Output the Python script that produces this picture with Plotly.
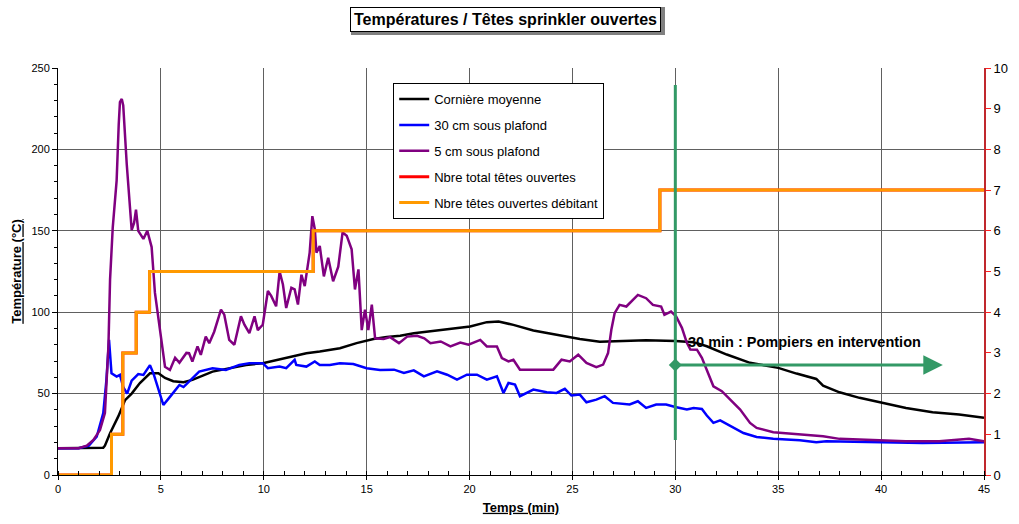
import plotly.graph_objects as go

# ---------------- data ----------------
t_black = [0, 1.0, 2.2, 2.28, 2.53, 2.93, 3.26, 3.58, 3.98, 4.47, 4.88, 5.2, 5.6, 6.1, 6.53, 7.51,
           8.32, 9.14, 9.95, 10.77, 11.58, 12.07, 12.72, 13.7, 14.51, 15.33, 15.98, 16.63, 17.29,
           18.91, 20.03, 20.84, 21.41, 22.13, 23.1, 24.23, 25.36, 26.33, 26.97, 28.58, 30.0, 30.89,
           31.53, 32.5, 33.63, 35.0, 35.89, 36.85, 37.18, 37.98, 38.95, 40.0, 41.21, 42.5, 43.79, 45.0]
v_black = [16.5, 16.5, 16.8, 18, 25.6, 36, 46, 50, 56.5, 62.5, 62.5, 59.6, 57.6, 57, 58.4, 63.5,
           65.6, 67.6, 68.7, 71.1, 73.2, 74.8, 75.9, 77.9, 81, 83.5, 84.7, 85.5, 87.1,
           89.6, 91.2, 93.9, 94.3, 92.2, 88.8, 86.1, 83.5, 81.8, 82.0, 82.7, 82.3, 81.6,
           79.1, 74, 68.9, 65.8, 62.3, 59, 54.9, 50.8, 47.4, 44.3, 41.2, 38.5, 37.1, 35.1]

t_blue = [0, 1.0, 1.5, 1.88, 2.2, 2.35, 2.48, 2.6, 2.85, 3.01, 3.17, 3.36, 3.58, 3.9, 4.15, 4.47,
          4.65, 4.96, 5.12, 5.44, 5.7, 5.9, 6.1, 6.37, 6.86, 7.51, 8.16, 8.81, 9.3, 9.95, 10.2,
          10.77, 11.09, 11.5, 11.58, 12.07, 12.48, 12.72, 13.21, 13.7, 14.35, 15.0, 15.65, 16.33,
          16.81, 17.29, 17.78, 18.42, 18.91, 19.39, 19.87, 20.36, 20.84, 21.33, 21.65, 21.89,
          22.21, 22.45, 23.1, 23.75, 24.23, 24.63, 24.95, 25.36, 25.68, 26.16, 26.57, 26.97,
          27.78, 28.18, 28.58, 29.07, 29.55, 30.0, 30.56, 30.89, 31.29, 31.53, 31.85, 32.18,
          32.66, 33.31, 33.95, 34.76, 36.05, 36.85, 37.34, 39.6, 42.0, 45.0]
v_blue = [16.5, 16.5, 18, 23.5, 38, 58, 83, 62.5, 60.5, 61.5, 54, 50, 58, 62, 61.5, 67.5,
          62, 50, 43, 48, 52, 55.3, 54, 57.3, 63.5, 65.6, 64.5, 67.6, 68.7, 68.7, 65.6,
          66.6, 65.6, 70.7, 67.6, 66.6, 69.7, 67.6, 67.6, 68.7, 68.2, 65.6, 64.5, 64.7,
          62.7, 64.3, 60.6, 63.7, 61.6, 58.6, 61.6, 61.6, 58.6, 60.6, 50.4, 56.5,
          55.5, 48.4, 52.5, 50.8, 50.4, 52.9, 48.8, 49.4, 44.7, 46.3, 48.4, 44.3,
          43.3, 45.3, 41.2, 43.3, 43.3, 41.8, 40.2, 41.2, 40.6, 36.5, 32, 33.6,
          30.3, 25.8, 23.4, 22.2, 21.3, 20.1, 20.7, 20.1, 19.7, 20.1]

t_purple = [0, 1.0, 1.4, 1.72, 2.04, 2.28, 2.45, 2.53, 2.66, 2.85, 2.95, 3.01, 3.1, 3.17, 3.34,
            3.58, 3.7, 3.79, 3.9, 4.15, 4.34, 4.55, 4.71, 4.96, 5.2, 5.44, 5.6, 5.69, 5.9, 6.24,
            6.37, 6.53, 6.78, 6.94, 7.18, 7.35, 7.59, 7.92, 8.08, 8.32, 8.57, 8.89, 9.06, 9.3,
            9.55, 9.71, 9.95, 10.2, 10.36, 10.6, 10.77, 10.93, 11.09, 11.34, 11.5, 11.66, 11.83,
            11.99, 12.23, 12.36, 12.48, 12.56, 12.72, 12.92, 13.13, 13.37, 13.62, 13.83, 14.03,
            14.27, 14.43, 14.6, 14.76, 14.92, 15.08, 15.25, 15.41, 15.82, 16.14, 16.57, 16.97,
            17.45, 17.8, 18.1, 18.6, 19.07, 19.55, 19.95, 20.52, 20.84, 21.33, 21.57, 21.89,
            22.13, 22.45, 22.94, 23.58, 24.07, 24.47, 24.87, 25.28, 25.68, 26.16, 26.49, 26.73,
            26.89, 27.05, 27.29, 27.62, 27.94, 28.18, 28.58, 28.91, 29.31, 29.47, 29.79, 30.04,
            30.32, 30.56, 30.73, 31.05, 31.29, 31.53, 31.85, 32.26, 32.66, 33.15, 33.63, 33.95,
            34.76, 36.05, 37.18, 37.98, 39.6, 41.2, 42.82, 44.27, 45.0]
v_purple = [16.5, 16.5, 18, 21.5, 27.6, 38, 79, 120, 152, 181, 215, 229, 231, 227, 191,
            150.5, 155, 163, 150, 145, 150, 140, 112, 89, 66.5, 64.5, 70, 72, 69, 75,
            74.8, 69.7, 79, 73.8, 85, 81, 88, 101.6, 98.5, 83, 80, 97.5, 92.3, 87.2,
            97.5, 89, 92.3, 113, 110, 103.6, 125, 117, 102.6, 115, 114, 104.7, 123,
            116, 136.6, 159, 151, 136.6, 140.7, 122, 133.5, 119, 128, 149, 147,
            138.6, 114, 126.3, 89, 101.6, 89, 104.7, 84, 83.5, 84.7, 81, 85,
            85.5, 84, 81, 82, 79, 81.4, 80, 83, 79, 79, 71.8, 69.8,
            70.8, 64.7, 64.7, 64.7, 64.7, 70.8, 69.8, 73.9, 68.8, 66.3, 67.8, 74.9,
            89.2, 99.4, 104.5, 103.5, 107.6, 110.6, 108.6, 104.5, 103.5, 98.4, 100.4, 97.4,
            90.4, 81.2, 77.1, 77, 72, 64.8, 54.5, 51.5, 46.3, 40.2, 32, 28.9,
            26.3, 24.8, 23.8, 22.2, 21.3, 20.7, 20.7, 22.2, 20.7]

t_heads = [0, 2.6, 3.15, 3.8, 4.45, 12.4, 29.25, 45]
n_total = [0, 1, 3, 4, 5, 6, 7, 7]
n_debit = [0, 1, 3, 4, 5, 6, 7, 7]

x_ticks = [0, 5, 10, 15, 20, 25, 30, 35, 40, 45]
y_ticks = [0, 50, 100, 150, 200, 250]
y2_ticks = list(range(0, 11))

t_pompiers = 30
arrow_end = 43
arrow_level = 67.6
vline_bottom, vline_top = 21.5, 239.6
label_level = 82

FONT = "Liberation Sans, Arial, sans-serif"
GREEN = "#339966"

fig = go.Figure()
fig.add_trace(go.Scatter(x=t_black, y=v_black, mode="lines", name="Cornière moyenne",
                         line=dict(color="black", width=2.5), legendgroup="a"))
fig.add_trace(go.Scatter(x=t_blue, y=v_blue, mode="lines", name="30 cm sous plafond",
                         line=dict(color="#0000ff", width=2.5), legendgroup="b"))
fig.add_trace(go.Scatter(x=t_purple, y=v_purple, mode="lines", name="5 cm sous plafond",
                         line=dict(color="#800080", width=2.5), legendgroup="c"))
fig.add_trace(go.Scatter(x=t_heads, y=n_total, mode="lines", name="Nbre total têtes ouvertes",
                         line=dict(color="#ff0000", width=3, shape="hv"), yaxis="y2", legendgroup="d"))
fig.add_trace(go.Scatter(x=t_heads, y=n_debit, mode="lines", name="Nbre têtes ouvertes débitant",
                         line=dict(color="#ff9900", width=3, shape="hv"), yaxis="y2", legendgroup="e"))

# green marker line and arrow
fig.add_shape(type="line", x0=t_pompiers, x1=t_pompiers, y0=vline_bottom, y1=vline_top,
              xref="x", yref="y", line=dict(color=GREEN, width=3))
fig.add_annotation(x=arrow_end, y=arrow_level, ax=t_pompiers, ay=arrow_level, xref="x", yref="y",
                   axref="x", ayref="y", text="", showarrow=True, arrowhead=2, arrowsize=1.3,
                   arrowwidth=3, arrowcolor=GREEN, standoff=0, startstandoff=0)
fig.add_trace(go.Scatter(x=[t_pompiers], y=[arrow_level], mode="markers", showlegend=False,
                         marker=dict(symbol="diamond", size=10, color=GREEN), hoverinfo="skip"))
fig.add_annotation(x=t_pompiers + 0.5, y=label_level, xref="x", yref="y", xanchor="left",
                   yanchor="middle", text="<b>30 min : Pompiers en intervention</b>",
                   showarrow=False, font=dict(family=FONT, size=14.5, color="black"))

# boxed title with shadow
fig.add_shape(type="rect", xref="paper", yref="paper", x0=0.3164, x1=0.6555, y0=1.081, y1=1.150,
              fillcolor="#808080", line=dict(width=0), layer="above")
fig.add_annotation(x=0.4833, y=1.12, xref="paper", yref="paper", xanchor="center", yanchor="middle",
                   text="<b>Températures / Têtes sprinkler ouvertes</b>", showarrow=False,
                   font=dict(family=FONT, size=16, color="black"), bordercolor="black",
                   borderwidth=1, borderpad=3, bgcolor="white")

fig.update_layout(
    width=1019, height=524,
    margin=dict(l=58, r=35, t=68, b=49),
    paper_bgcolor="white", plot_bgcolor="white",
    font=dict(family=FONT, color="black", size=11),
    showlegend=True,
    legend=dict(x=0.362, y=0.963, xanchor="left", yanchor="top", bgcolor="white",
                bordercolor="black", borderwidth=1, font=dict(family=FONT, size=13),
                traceorder="grouped", tracegroupgap=6),
    xaxis=dict(range=[0, 45], tickvals=x_ticks, showgrid=True, gridcolor="#606060", gridwidth=1,
               showline=True, linecolor="black", linewidth=1, zeroline=False,
               ticks="outside", ticklen=4, tickcolor="black",
               minor=dict(dtick=1, ticks="inside", ticklen=4, tickcolor="black", showgrid=False),
               tickfont=dict(size=11),
               title=dict(text="<u><b>Temps (min)</b></u>", font=dict(size=13), standoff=8)),
    yaxis=dict(range=[0, 250], tickvals=y_ticks, showgrid=True, gridcolor="#606060", gridwidth=1,
               showline=True, linecolor="black", linewidth=1, zeroline=False,
               ticks="outside", ticklen=5, tickcolor="black",
               minor=dict(dtick=10, ticks="outside", ticklen=3, tickcolor="black", showgrid=False),
               tickfont=dict(size=11),
               title=dict(text="<u><b>Température (°C)</b></u>", font=dict(size=13), standoff=6)),
    yaxis2=dict(range=[0, 10], tickvals=y2_ticks, overlaying="y", side="right", showgrid=False,
                showline=True, linecolor="#c0282d", linewidth=2, zeroline=False,
                ticks="outside", ticklen=5, tickcolor="#ff2020", tickfont=dict(size=13)),
)

fig.write_html("out.html")
